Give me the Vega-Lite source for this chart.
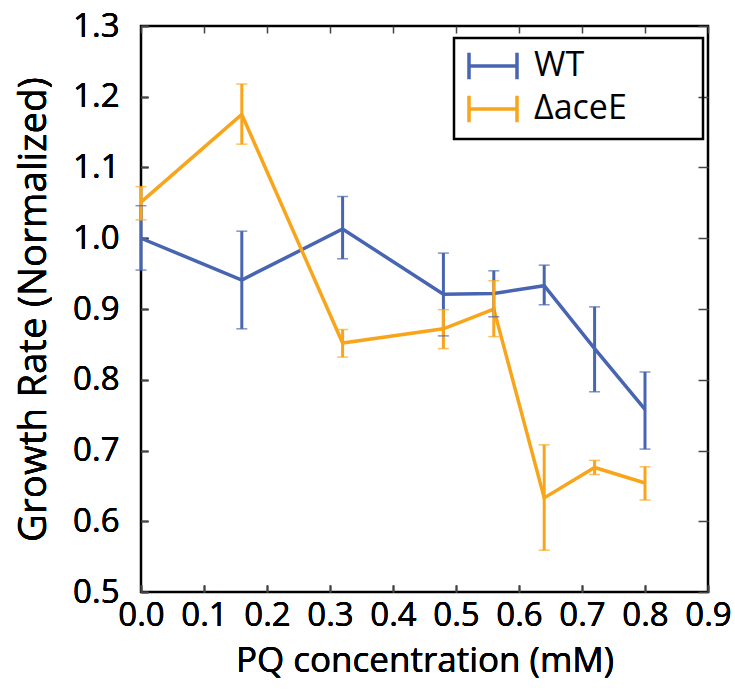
{
  "$schema": "https://vega.github.io/schema/vega-lite/v6.json",
  "width": 567,
  "height": 566,
  "autosize": {"type": "none"},
  "padding": {"left": 141, "top": 26, "right": 27, "bottom": 100},
  "background": "white",
  "config": {
    "font": "Open Sans",
    "view": {"stroke": "black", "strokeWidth": 2.5},
    "axis": {
      "domain": false,
      "grid": false,
      "tickColor": "#444444",
      "tickSize": 7,
      "tickWidth": 1.5,
      "labelFont": "Open Sans",
      "labelFontSize": 33,
      "labelColor": "black",
      "titleFont": "Open Sans",
      "titleFontSize": 35,
      "titleFontWeight": "normal",
      "titleColor": "black"
    }
  },
  "data": {
    "values": [
      {"pq": 0.0, "strain": "WT", "rate": 1.000, "lo": 0.955, "hi": 1.046},
      {"pq": 0.16, "strain": "WT", "rate": 0.941, "lo": 0.872, "hi": 1.010},
      {"pq": 0.32, "strain": "WT", "rate": 1.013, "lo": 0.971, "hi": 1.059},
      {"pq": 0.48, "strain": "WT", "rate": 0.921, "lo": 0.862, "hi": 0.979},
      {"pq": 0.56, "strain": "WT", "rate": 0.922, "lo": 0.889, "hi": 0.954},
      {"pq": 0.64, "strain": "WT", "rate": 0.933, "lo": 0.906, "hi": 0.962},
      {"pq": 0.72, "strain": "WT", "rate": 0.844, "lo": 0.783, "hi": 0.903},
      {"pq": 0.80, "strain": "WT", "rate": 0.758, "lo": 0.702, "hi": 0.811},
      {"pq": 0.0, "strain": "ΔaceE", "rate": 1.051, "lo": 1.026, "hi": 1.073},
      {"pq": 0.16, "strain": "ΔaceE", "rate": 1.175, "lo": 1.133, "hi": 1.218},
      {"pq": 0.32, "strain": "ΔaceE", "rate": 0.852, "lo": 0.832, "hi": 0.871},
      {"pq": 0.48, "strain": "ΔaceE", "rate": 0.872, "lo": 0.844, "hi": 0.899},
      {"pq": 0.56, "strain": "ΔaceE", "rate": 0.900, "lo": 0.861, "hi": 0.940},
      {"pq": 0.64, "strain": "ΔaceE", "rate": 0.633, "lo": 0.559, "hi": 0.708},
      {"pq": 0.72, "strain": "ΔaceE", "rate": 0.676, "lo": 0.666, "hi": 0.686},
      {"pq": 0.80, "strain": "ΔaceE", "rate": 0.654, "lo": 0.630, "hi": 0.677}
    ]
  },
  "encoding": {
    "x": {
      "field": "pq",
      "type": "quantitative",
      "scale": {"domain": [0, 0.9], "nice": false, "zero": false},
      "axis": {"orient": "bottom", "offset": -7, "title": "PQ concentration (mM)", "values": [0,0.1,0.2,0.3,0.4,0.5,0.6,0.7,0.8,0.9], "format": ".1f", "labelPadding": 7, "titlePadding": 11, "labelFlush": false, "labelOverlap": false}
    },
    "y": {
      "field": "rate",
      "type": "quantitative",
      "scale": {"domain": [0.5, 1.3], "nice": false, "zero": false},
      "axis": {"orient": "left", "offset": -7, "title": "Growth Rate (Normalized)", "titleFontSize": 38.5, "values": [0.5,0.6,0.7,0.8,0.9,1.0,1.1,1.2,1.3], "format": ".1f", "labelPadding": 22, "titlePadding": 19, "labelFlush": false, "labelOverlap": false}
    },
    "color": {
      "field": "strain",
      "type": "nominal",
      "scale": {"domain": ["WT", "ΔaceE"], "range": ["#4865b2", "#f9a51b"]},
      "legend": {
        "title": null,
        "orient": "none",
        "legendX": 313,
        "legendY": 12,
        "strokeColor": "black",
        "padding": 13,
        "symbolType": "M-1,-0.55V0.55M-1,0H1M1,-0.55V0.55",
        "symbolSize": 2304,
        "symbolStrokeWidth": 3.5,
        "symbolFillColor": "transparent",
        "labelFontSize": 34,
        "labelFont": "Open Sans",
        "labelColor": "black",
        "labelOffset": 15,
        "labelLimit": 400,
        "clipHeight": 30,
        "rowPadding": 9,
        "labelExpr": "datum.label + '\u2003\u2002\u2009\u2009\u200b'",
        "encode": {"legend": {"update": {"strokeWidth": {"value": 2.5}}}}
      }
    }
  },
  "layer": [
    {"mark": {"type": "line", "strokeWidth": 3.5}},
    {"mark": {"type": "rule", "strokeWidth": 3}, "encoding": {"y": {"field": "lo", "type": "quantitative"}, "y2": {"field": "hi"}}},
    {"mark": {"type": "tick", "orient": "horizontal", "size": 11, "thickness": 1.5}, "encoding": {"y": {"field": "lo", "type": "quantitative"}}},
    {"mark": {"type": "tick", "orient": "horizontal", "size": 11, "thickness": 1.5}, "encoding": {"y": {"field": "hi", "type": "quantitative"}}},
    {
      "mark": {"type": "point", "opacity": 0},
      "encoding": {
        "x": {"field": "pq", "type": "quantitative", "axis": {"orient": "top", "offset": -7, "labels": false, "labelOpacity": 0, "labelExpr": "''", "title": null, "values": [0,0.1,0.2,0.3,0.4,0.5,0.6,0.7,0.8,0.9]}},
        "y": {"field": "rate", "type": "quantitative", "axis": {"orient": "right", "labels": false, "labelOpacity": 0, "labelExpr": "''", "title": null, "tickSize": 10, "offset": -10, "values": [0.5,0.6,0.7,0.8,0.9,1.0,1.1,1.2,1.3]}},
        "color": {"value": "transparent"}
      }
    }
  ],
  "resolve": {"axis": {"x": "independent", "y": "independent"}}
}
